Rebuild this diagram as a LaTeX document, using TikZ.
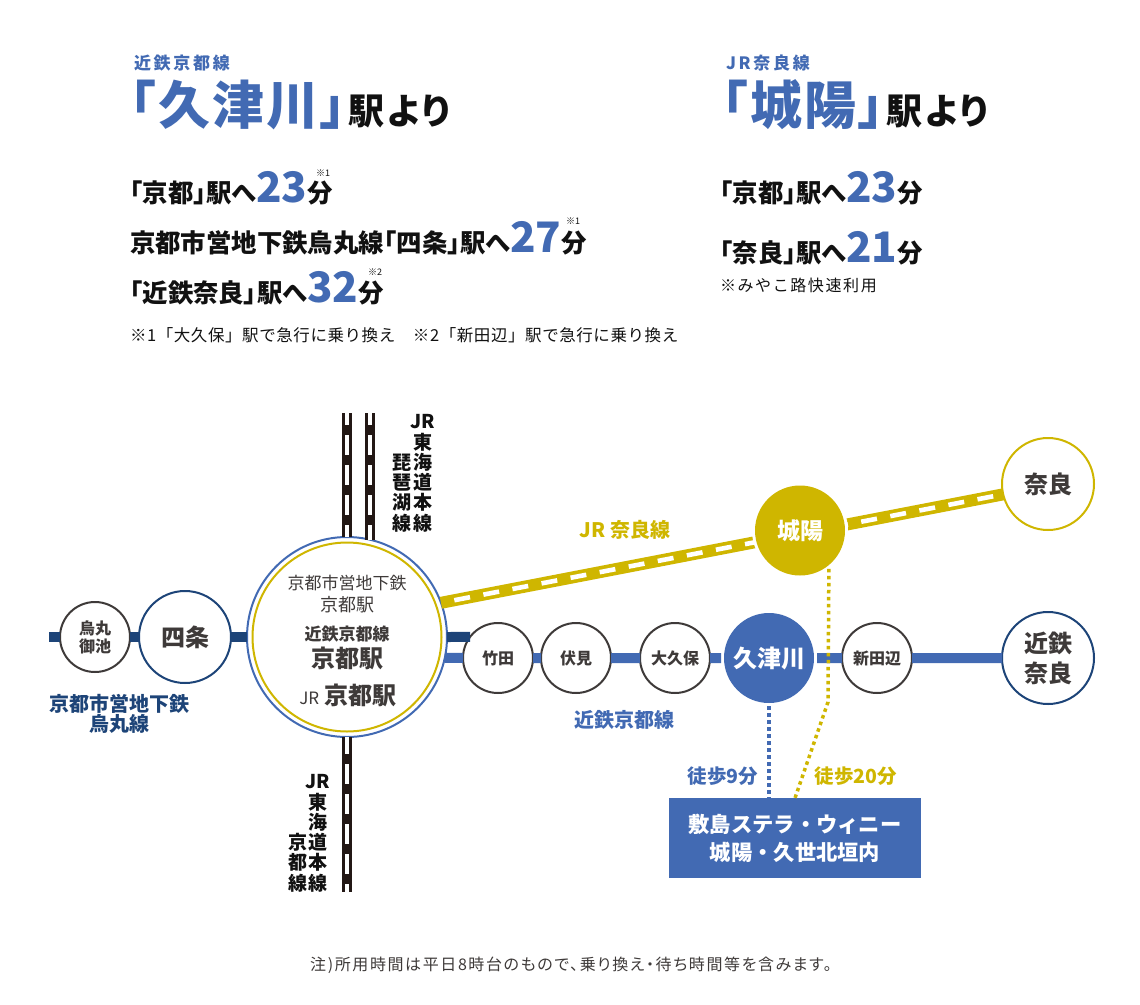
\documentclass[tikz,border=0pt]{standalone}
\usepackage{fontspec}
\setmainfont{Noto Sans CJK JP}[RawFeature=+palt]
\newfontfamily\plainjp{Noto Sans CJK JP}
\usetikzlibrary{positioning, calc}
\definecolor{kintetsu}{HTML}{426AB3}
\definecolor{subway}{HTML}{1D4478}
\definecolor{jryellow}{HTML}{CFB600}
\definecolor{jrdark}{HTML}{231815}
\definecolor{inkgray}{HTML}{3E3A39}
\definecolor{inkblack}{HTML}{111111}
\newcommand{\fs}[1]{\fontsize{#1}{#1}\selectfont}
\newcommand{\titletext}[1]{{\fs{52}\addfontfeature{LetterSpace=4}\color{kintetsu}#1}\hspace{2pt}{\fs{36}\addfontfeature{LetterSpace=9}駅より}}
\newcommand{\minutes}[1]{{\fs{42}\color{kintetsu}#1}分}
\begin{document}
\begin{tikzpicture}[
        x=1pt, y=-1pt,
        every node/.style={inner sep=0pt, outer sep=0pt, align=center},
        head/.style={anchor=base west, font=\fs{25.4}\bfseries, text=inkblack},
        title/.style={anchor=base west, font=\bfseries, text=inkblack},
        subhead/.style={anchor=west, font=\fs{17}\bfseries\addfontfeature{LetterSpace=16}, text=kintetsu},
        refmark/.style={font=\fs{9}, text=inkblack},
        station/.style={circle, draw=#1, line width=2pt, fill=white, minimum size=70pt, text=inkgray, font=\fs{16}\bfseries},
        bigstation/.style={circle, draw=#1, line width=2pt, fill=white, minimum size=92pt, text=inkgray, font=\fs{24}\bfseries},
        stop/.style={circle, fill=#1, minimum size=90pt, text=white, font=\fs{24}\bfseries, outer sep=3pt,
            preaction={draw=white, line width=6pt}},
        kyototext/.style={text=inkgray},
        jrlabel/.style={anchor=south, text=inkblack, font=\fs{19}\bfseries, execute at begin node={\baselineskip=20.3pt}},
        track/.style={line width=10pt, draw=#1},
        jrdash/.style={draw=white, line width=4.6pt, dash pattern=on 20pt off 10pt, dash phase=#1},
        walk/.style={draw=#1, line width=3.5pt, dash pattern=on 3.5pt off 3.5pt}
    ]
    \useasboundingbox (0,0) rectangle (1140,1004);

    % Top left: from Kutsukawa
    \node[subhead] (subleft) at (134,63) {近鉄京都線};
    \node[title] (titleleft) at (130,124) {\titletext{「久津川」}};
    \node[head] (lineA) at (130,202) {「京都」駅へ\minutes{23}};
    \node[head] (lineB) at (130,252) {京都市営地下鉄烏丸線「四条」駅へ\minutes{27}};
    \node[head] (lineC) at (130,302) {「近鉄奈良」駅へ\minutes{32}};
    \node[refmark] (refA) at (323,173) {※1};
    \node[refmark] (refB) at (573,221) {※1};
    \node[refmark] (refC) at (375,272) {※2};
    \node[anchor=west, font=\plainjp\fs{16.5}\addfontfeature{LetterSpace=3.5}, text=inkblack] (noteleft) at (130,335) {※1「大久保」駅で急行に乗り換え　※2「新田辺」駅で急行に乗り換え};

    % Top right: from Joyo
    \node[subhead] (subright) at (726,63) {JR奈良線};
    \node[title] (titleright) at (722,124) {\titletext{「城陽」}};
    \node[head] (lineD) at (720,202) {「京都」駅へ\minutes{23}};
    \node[head] (lineE) at (720,262) {「奈良」駅へ\minutes{21}};
    \node[anchor=west, font=\plainjp\fs{16}\addfontfeature{LetterSpace=10}, text=inkblack] (noteright) at (720,285) {※みやこ路快速利用};

    % Stations
    \node[circle, draw=kintetsu, line width=2pt, fill=white, minimum size=200pt] (kyoto) at (347,637) {};
    \node[circle, draw=jryellow, line width=2pt, minimum size=189pt] (kyotoinner) at (347,637) {};
    \node[station=inkgray] (karasuma) at (95,637) {烏丸\\[2pt]御池};
    \node[bigstation=subway] (shijo) at (185,637) {四条};
    \node[station=inkgray] (takeda) at (498,658) {竹田};
    \node[station=inkgray] (fushimi) at (576,658) {伏見};
    \node[station=inkgray] (okubo) at (675,658) {大久保};
    \node[stop=kintetsu] (kutsukawa) at (769,658) {久津川};
    \node[station=inkgray] (shintanabe) at (877,658) {新田辺};
    \node[bigstation=subway] (kintetsunara) at (1048,658) {近鉄\\[6pt]奈良};
    \node[bigstation=jryellow] (nara) at (1048,484) {奈良};

    % Text of Kyoto station
    \node[kyototext, font=\fs{17}] (kyotoA) at (347,583) {京都市営地下鉄};
    \node[kyototext, font=\fs{18}] (kyotoB) at (347,605) {京都駅};
    \node[kyototext, font=\fs{17}\bfseries] (kyotoC) at (347,634) {近鉄京都線};
    \node[kyototext, font=\fs{24}\bfseries] (kyotoD) at (347,658) {京都駅};
    \node[kyototext, font=\fs{24}\bfseries] (kyotoE) at (348,695) {{\fs{17}\mdseries JR} 京都駅};

    % Free ends
    \coordinate (subwayend) at (49,637);
    \coordinate (biwakotop) at (370,413);
    \coordinate (kyototop) at (347,413);
    \coordinate (kyotobottom) at (347,892);

    % Subway
    \draw[track=subway] (subwayend) -- (karasuma) -- (shijo) -- (kyoto);
    \draw[track=subway] (kyoto.east) -- (takeda.143);

    % Kintetsu
    \draw[track=kintetsu] (kyoto.-12) -- (takeda) -- (fushimi) -- (okubo) -- (kutsukawa) -- (shintanabe) -- (kintetsunara);

    % JR lines
    \draw[track=jrdark] (kyototop) -- (kyoto.north);
    \draw[jrdash=8] (kyototop) -- (kyoto.north);
    \draw[track=jrdark] (biwakotop) -- (biwakotop |- kyoto.76.7);
    \draw[jrdash=8] (biwakotop) -- (biwakotop |- kyoto.76.7);
    \draw[track=jrdark] (kyoto.south) -- (kyotobottom);
    \draw[jrdash=3] (kyoto.south) -- (kyotobottom);

    % JR Nara line, Joyo lies on it
    \draw[track=jryellow, line width=12pt] (kyoto.20.4) -- (nara.193.4);
    \draw[jrdash=16, dash pattern=on 16pt off 13.6pt] (kyoto.20.4) -- (nara.193.4);
    \node[stop=jryellow, font=\fs{23}\bfseries] (joyo) at (800,530.5) {城陽};

    % Walking routes
    \node[fill=kintetsu, minimum width=252pt, minimum height=80pt, text=white, font=\plainjp\fs{21.3}\bfseries] (stella) at (795,838) {敷島ステラ・ウィニー\\[7pt]城陽・久世北垣内};
    \coordinate (joyobend) at (828,702);
    \draw[walk=kintetsu] (kutsukawa) -- (kutsukawa |- stella.north);
    \draw[walk=jryellow] (joyo.-53) -- (joyobend) -- (stella.north);

    % Line names
    \node[text=subway, font=\fs{20}\bfseries] (karasumaline) at (119,714) {京都市営地下鉄\\烏丸線};
    \node[jrlabel] (tokaidoA) at (423,532) {JR\\東\\海\\道\\本\\線};
    \node[jrlabel] (biwako) at (402,532) {琵\\琶\\湖\\線};
    \node[jrlabel] (tokaidoB) at (318,892) {JR\\東\\海\\道\\本\\線};
    \node[jrlabel] (kyotoline) at (298,892) {京\\都\\線};
    \node[text=jryellow, font=\fs{20}\bfseries] (naraline) at (625,530) {JR 奈良線};
    \node[text=kintetsu, font=\fs{20}\bfseries] (kintetsuline) at (624,720) {近鉄京都線};
    \node[text=kintetsu, font=\fs{19.5}\bfseries] (walkA) at (723,776) {徒歩9分};
    \node[text=jryellow, font=\fs{19.5}\bfseries] (walkB) at (856,776) {徒歩20分};

    % Footnote
    \node[text=inkgray, font=\fs{16}\addfontfeature{LetterSpace=10}] (footnote) at (571,965) {注)所用時間は平日8時台のもので、乗り換え・待ち時間等を含みます。};

\end{tikzpicture}
\end{document}
